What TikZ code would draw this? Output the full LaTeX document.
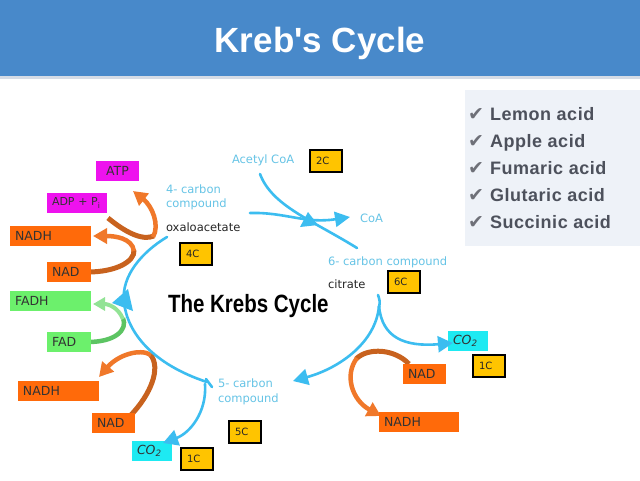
\documentclass[tikz,border=0pt]{standalone}
\usepackage{fontspec}
\setmainfont{Liberation Sans}
\newfontfamily\titlefont{Liberation Sans}[Ligatures=TeXOff]
\newfontfamily\comic{DejaVu Sans}
\newfontfamily\dejavu{DejaVu Sans}
\usetikzlibrary{arrows.meta}
\definecolor{hdr}{HTML}{4889CA}
\definecolor{hdrshadow}{HTML}{D5DCE6}
\definecolor{panel}{HTML}{EEF2F8}
\definecolor{listtxt}{HTML}{4D515C}
\definecolor{chk}{HTML}{6E7078}
\definecolor{cycc}{HTML}{3CBDF0}
\definecolor{lblc}{HTML}{66C4E6}
\definecolor{mag}{HTML}{EE12EE}
\definecolor{org}{HTML}{FF6A0A}
\definecolor{arrorg}{HTML}{F0782A}
\definecolor{brn}{HTML}{C8621E}
\definecolor{grn}{HTML}{6CF06C}
\definecolor{garr}{HTML}{5CC462}
\definecolor{cyanbox}{HTML}{1EEAF2}
\definecolor{yel}{HTML}{FFC400}
\begin{document}
\begin{tikzpicture}[x=1pt,y=-1pt,
  every node/.style={inner sep=0pt, outer sep=0pt},
  lbox/.style={rectangle, inner xsep=5pt, inner ysep=0pt, minimum height=20pt,
    text width=#1, align=left, anchor=north west,
    font=\comic\fontsize{12.5}{13}\selectfont, text=black!80},
  cbox/.style={rectangle, fill=yel, draw=black, line width=2.4pt,
    minimum width=32pt, minimum height=22pt, inner xsep=6pt, text width=20pt,
    align=left, anchor=north west, font=\comic\fontsize{10}{10}\selectfont, text=black!85},
  lbl/.style={anchor=base west, text=lblc, font=\comic\fontsize{11.5}{14}\selectfont},
  blk/.style={anchor=base west, text=black!85, font=\comic\fontsize{11.5}{14}\selectfont},
  cyc/.style={draw=cycc, line width=2.6pt, line cap=round},
  cyctip/.style={-{Triangle[length=15pt,width=16pt]}},
  tail/.style={draw=brn, line width=5pt},
  head/.style={draw=arrorg, line width=4.5pt, -{Triangle[length=14pt,width=15pt]}},
  gtail/.style={draw=garr, line width=4.5pt},
  ghead/.style={draw=garr!80!green!60, line width=4pt, -{Triangle[length=12pt,width=13pt]}},
  listitem/.style={anchor=base west, text=listtxt,
    font=\bfseries\fontsize{18}{20}\selectfont\addfontfeature{LetterSpace=3}},
  check/.style={anchor=base, text=chk, font=\dejavu\fontsize{19}{19}\selectfont},
]
\useasboundingbox (0,0) rectangle (640,480);
\fill[white] (0,0) rectangle (640,480);
% header
\fill[hdr] (0,0) rectangle (640,76);
\fill[hdrshadow] (0,76) rectangle (640,79);
\node[anchor=base, text=white, font=\titlefont\bfseries\fontsize{35}{35}\selectfont] (title) at (320,52) {Kreb's Cycle};
% right panel
\fill[panel] (465,90) rectangle (640,246);
\node[check] (k1) at (476,120) {✔};
\node[check] (k2) at (476,147) {✔};
\node[check] (k3) at (476,174) {✔};
\node[check] (k4) at (476,201) {✔};
\node[check] (k5) at (476,228) {✔};
\node[listitem] (l1) at (490,120) {Lemon acid};
\node[listitem] (l2) at (490,147) {Apple acid};
\node[listitem] (l3) at (490,174) {Fumaric acid};
\node[listitem] (l4) at (490,201) {Glutaric acid};
\node[listitem] (l5) at (490,228) {Succinic acid};

% orange / green side arrows (drawn below boxes)
\draw[tail] (108,218) .. controls (125,232) and (142,241) .. (154,236);
\draw[head] (153,237) .. controls (160,225) and (152,206) .. (133,191);
\draw[tail] (88,272) .. controls (115,272) and (135,262) .. (134,250);
\draw[head] (134,251) .. controls (132,238) and (115,236) .. (93,236);
\draw[gtail] (88,342) .. controls (115,342) and (128,330) .. (123,318);
\draw[ghead] (123,319) .. controls (118,307) and (108,304) .. (93,304);
\draw[tail] (131,415) .. controls (150,395) and (162,368) .. (150,354);
\draw[head] (151,355) .. controls (140,348) and (118,355) .. (99,377);
\draw[tail] (409,364) .. controls (395,349) and (368,347) .. (356,359);
\draw[head] (357,358) .. controls (344,375) and (352,400) .. (381,416);

% boxes
\node[lbox=33pt, fill=mag, align=center] (atp) at (96,161) {ATP};
\node[lbox=50pt, fill=mag, font=\comic\fontsize{11}{12}\selectfont] (adp) at (47,193) {ADP + P\textsubscript{i}};
\node[lbox=71pt, fill=org] (nadh1) at (10,226) {NADH};
\node[lbox=34pt, fill=org] (nad1) at (47,262) {NAD};
\node[lbox=71pt, fill=grn] (fadh) at (10,291) {FADH};
\node[lbox=34pt, fill=grn] (fad) at (47,332) {FAD};
\node[lbox=71pt, fill=org] (nadh2) at (18,381) {NADH};
\node[lbox=33pt, fill=org] (nad2) at (92,413) {NAD};
\node[lbox=30pt, fill=cyanbox] (co2a) at (132,441) {\itshape CO\textsubscript{2}};
\node[lbox=30pt, fill=cyanbox] (co2b) at (448,331) {\itshape CO\textsubscript{2}};
\node[lbox=33pt, fill=org] (nad3) at (403,364) {NAD};
\node[lbox=70pt, fill=org] (nadh3) at (379,412) {NADH};

\node[cbox] (c2) at (310,150) {2C};
\node[cbox] (c4) at (180,243) {4C};
\node[cbox] (c6) at (388,271) {6C};
\node[cbox] (c1b) at (473,355) {1C};
\node[cbox] (c5) at (229,421) {5C};
\node[cbox] (c1a) at (181,448) {1C};

% labels
\node[lbl] (acetyl) at (232,163.5) {Acetyl CoA};
\node[lbl] (four1) at (166,193) {4- carbon};
\node[lbl] (four2) at (166,207) {compound};
\node[blk] (oxa) at (166,231) {oxaloacetate};
\node[lbl] (coa) at (360,222) {CoA};
\node[lbl] (six) at (328,265) {6- carbon compound};
\node[blk] (cit) at (328,288) {citrate};
\node[lbl] (five1) at (218,387) {5- carbon};
\node[lbl] (five2) at (218,402) {compound};
\node[anchor=base west, font=\bfseries\fontsize{25}{25}\selectfont] (krebs) at (168,312) {\scalebox{0.82}[1]{The Krebs Cycle}};

% cycle
\coordinate (oxs) at (167,237);
\coordinate (cits) at (378,295);
\coordinate (five) at (207,382);
\draw[cyc] (oxs) .. controls (142,252) and (121,276) .. (124,302) .. controls (127,332) and (152,364) .. (five);
\draw[cyc] (206,379) -- (212,387);
\fill[cycc] (128,289) -- (112,303) -- (133,311) -- cycle;
\draw[cyc, cyctip] (205,384) .. controls (207,412) and (190,433) .. (163,443);
\draw[cyc] (cits) .. controls (380,301) .. (379,308);
\draw[cyc, cyctip] (379,306) .. controls (382,338) and (405,347) .. (453,343);
\draw[cyc, cyctip] (379,306) .. controls (376,342) and (340,368) .. (293,381);
\draw[cyc, -{Triangle[length=15pt,width=15pt]}] (250,213) .. controls (285,212) and (305,224) .. (350,217);
\draw[cyc] (260,174) .. controls (272,206) and (312,220) .. (357,248);
\fill[cycc] (308,212) -- (300,227) -- (318,225) -- cycle;
\end{tikzpicture}
\end{document}
